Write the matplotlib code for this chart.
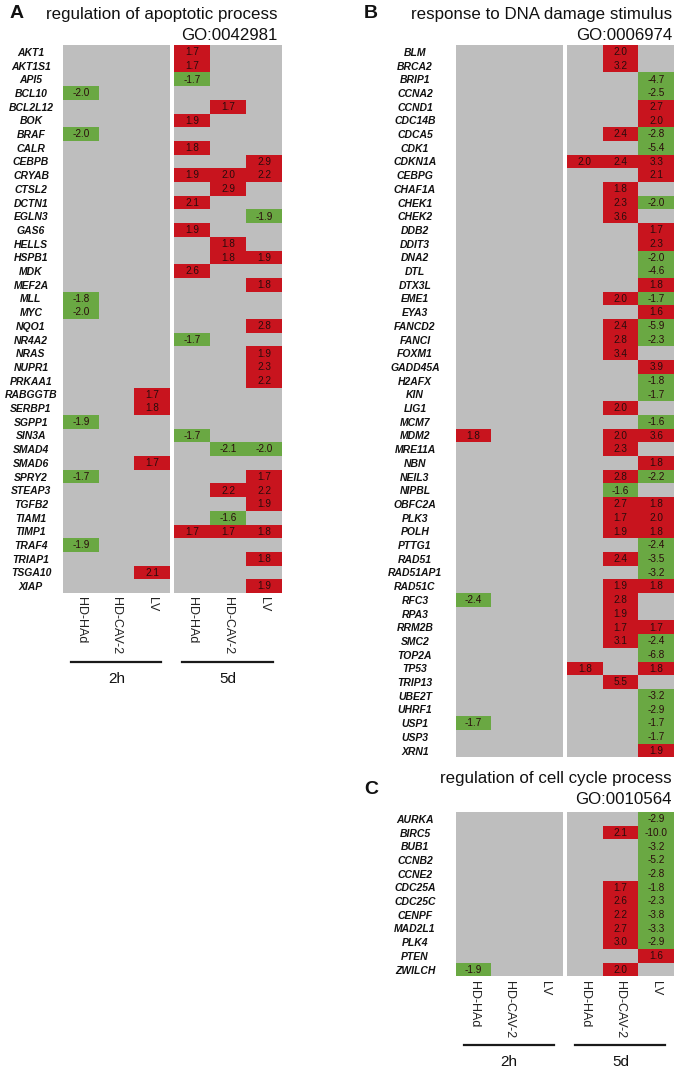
import matplotlib
matplotlib.use("Agg")
import matplotlib.pyplot as plt
from matplotlib.colors import ListedColormap
from matplotlib.lines import Line2D
import numpy as np

plt.rcParams["font.family"] = ["Liberation Sans", "DejaVu Sans"]

N = None

conditions = ["HD-HAd", "HD-CAV-2", "LV"]
timepoints = ["2h", "5d"]

# ---------------- Panel A ----------------
apop_title = "regulation of apoptotic process"
apop_go = "GO:0042981"
apop_genes = ["AKT1", "AKT1S1", "API5", "BCL10", "BCL2L12", "BOK", "BRAF", "CALR",
              "CEBPB", "CRYAB", "CTSL2", "DCTN1", "EGLN3", "GAS6", "HELLS", "HSPB1",
              "MDK", "MEF2A", "MLL", "MYC", "NQO1", "NR4A2", "NRAS", "NUPR1", "PRKAA1",
              "RABGGTB", "SERBP1", "SGPP1", "SIN3A", "SMAD4", "SMAD6", "SPRY2", "STEAP3",
              "TGFB2", "TIAM1", "TIMP1", "TRAF4", "TRIAP1", "TSGA10", "XIAP"]
apop_values = [
    [N, N, N, 1.7, N, N],       # AKT1
    [N, N, N, 1.7, N, N],       # AKT1S1
    [N, N, N, -1.7, N, N],      # API5
    [-2.0, N, N, N, N, N],      # BCL10
    [N, N, N, N, 1.7, N],       # BCL2L12
    [N, N, N, 1.9, N, N],       # BOK
    [-2.0, N, N, N, N, N],      # BRAF
    [N, N, N, 1.8, N, N],       # CALR
    [N, N, N, N, N, 2.9],       # CEBPB
    [N, N, N, 1.9, 2.0, 2.2],   # CRYAB
    [N, N, N, N, 2.9, N],       # CTSL2
    [N, N, N, 2.1, N, N],       # DCTN1
    [N, N, N, N, N, -1.9],      # EGLN3
    [N, N, N, 1.9, N, N],       # GAS6
    [N, N, N, N, 1.8, N],       # HELLS
    [N, N, N, N, 1.8, 1.9],     # HSPB1
    [N, N, N, 2.6, N, N],       # MDK
    [N, N, N, N, N, 1.8],       # MEF2A
    [-1.8, N, N, N, N, N],      # MLL
    [-2.0, N, N, N, N, N],      # MYC
    [N, N, N, N, N, 2.8],       # NQO1
    [N, N, N, -1.7, N, N],      # NR4A2
    [N, N, N, N, N, 1.9],       # NRAS
    [N, N, N, N, N, 2.3],       # NUPR1
    [N, N, N, N, N, 2.2],       # PRKAA1
    [N, N, 1.7, N, N, N],       # RABGGTB
    [N, N, 1.8, N, N, N],       # SERBP1
    [-1.9, N, N, N, N, N],      # SGPP1
    [N, N, N, -1.7, N, N],      # SIN3A
    [N, N, N, N, -2.1, -2.0],   # SMAD4
    [N, N, 1.7, N, N, N],       # SMAD6
    [-1.7, N, N, N, N, 1.7],    # SPRY2
    [N, N, N, N, 2.2, 2.2],     # STEAP3
    [N, N, N, N, N, 1.9],       # TGFB2
    [N, N, N, N, -1.6, N],      # TIAM1
    [N, N, N, 1.7, 1.7, 1.8],   # TIMP1
    [-1.9, N, N, N, N, N],      # TRAF4
    [N, N, N, N, N, 1.8],       # TRIAP1
    [N, N, 2.1, N, N, N],       # TSGA10
    [N, N, N, N, N, 1.9],       # XIAP
]

# ---------------- Panel B ----------------
dna_title = "response to DNA damage stimulus"
dna_go = "GO:0006974"
dna_genes = ["BLM", "BRCA2", "BRIP1", "CCNA2", "CCND1", "CDC14B", "CDCA5", "CDK1",
             "CDKN1A", "CEBPG", "CHAF1A", "CHEK1", "CHEK2", "DDB2", "DDIT3", "DNA2",
             "DTL", "DTX3L", "EME1", "EYA3", "FANCD2", "FANCI", "FOXM1", "GADD45A",
             "H2AFX", "KIN", "LIG1", "MCM7", "MDM2", "MRE11A", "NBN", "NEIL3", "NIPBL",
             "OBFC2A", "PLK3", "POLH", "PTTG1", "RAD51", "RAD51AP1", "RAD51C", "RFC3",
             "RPA3", "RRM2B", "SMC2", "TOP2A", "TP53", "TRIP13", "UBE2T", "UHRF1",
             "USP1", "USP3", "XRN1"]
dna_values = [
    [N, N, N, N, 2.0, N],       # BLM
    [N, N, N, N, 3.2, N],       # BRCA2
    [N, N, N, N, N, -4.7],      # BRIP1
    [N, N, N, N, N, -2.5],      # CCNA2
    [N, N, N, N, N, 2.7],       # CCND1
    [N, N, N, N, N, 2.0],       # CDC14B
    [N, N, N, N, 2.4, -2.8],    # CDCA5
    [N, N, N, N, N, -5.4],      # CDK1
    [N, N, N, 2.0, 2.4, 3.3],   # CDKN1A
    [N, N, N, N, N, 2.1],       # CEBPG
    [N, N, N, N, 1.8, N],       # CHAF1A
    [N, N, N, N, 2.3, -2.0],    # CHEK1
    [N, N, N, N, 3.6, N],       # CHEK2
    [N, N, N, N, N, 1.7],       # DDB2
    [N, N, N, N, N, 2.3],       # DDIT3
    [N, N, N, N, N, -2.0],      # DNA2
    [N, N, N, N, N, -4.6],      # DTL
    [N, N, N, N, N, 1.8],       # DTX3L
    [N, N, N, N, 2.0, -1.7],    # EME1
    [N, N, N, N, N, 1.6],       # EYA3
    [N, N, N, N, 2.4, -5.9],    # FANCD2
    [N, N, N, N, 2.8, -2.3],    # FANCI
    [N, N, N, N, 3.4, N],       # FOXM1
    [N, N, N, N, N, 3.9],       # GADD45A
    [N, N, N, N, N, -1.8],      # H2AFX
    [N, N, N, N, N, -1.7],      # KIN
    [N, N, N, N, 2.0, N],       # LIG1
    [N, N, N, N, N, -1.6],      # MCM7
    [1.8, N, N, N, 2.0, 3.6],   # MDM2
    [N, N, N, N, 2.3, N],       # MRE11A
    [N, N, N, N, N, 1.8],       # NBN
    [N, N, N, N, 2.8, -2.2],    # NEIL3
    [N, N, N, N, -1.6, N],      # NIPBL
    [N, N, N, N, 2.7, 1.8],     # OBFC2A
    [N, N, N, N, 1.7, 2.0],     # PLK3
    [N, N, N, N, 1.9, 1.8],     # POLH
    [N, N, N, N, N, -2.4],      # PTTG1
    [N, N, N, N, 2.4, -3.5],    # RAD51
    [N, N, N, N, N, -3.2],      # RAD51AP1
    [N, N, N, N, 1.9, 1.8],     # RAD51C
    [-2.4, N, N, N, 2.8, N],    # RFC3
    [N, N, N, N, 1.9, N],       # RPA3
    [N, N, N, N, 1.7, 1.7],     # RRM2B
    [N, N, N, N, 3.1, -2.4],    # SMC2
    [N, N, N, N, N, -6.8],      # TOP2A
    [N, N, N, 1.8, N, 1.8],     # TP53
    [N, N, N, N, 5.5, N],       # TRIP13
    [N, N, N, N, N, -3.2],      # UBE2T
    [N, N, N, N, N, -2.9],      # UHRF1
    [-1.7, N, N, N, N, -1.7],   # USP1
    [N, N, N, N, N, -1.7],      # USP3
    [N, N, N, N, N, 1.9],       # XRN1
]

# ---------------- Panel C ----------------
cc_title = "regulation of cell cycle process"
cc_go = "GO:0010564"
cc_genes = ["AURKA", "BIRC5", "BUB1", "CCNB2", "CCNE2", "CDC25A", "CDC25C", "CENPF",
            "MAD2L1", "PLK4", "PTEN", "ZWILCH"]
cc_values = [
    [N, N, N, N, N, -2.9],      # AURKA
    [N, N, N, N, 2.1, -10.0],   # BIRC5
    [N, N, N, N, N, -3.2],      # BUB1
    [N, N, N, N, N, -5.2],      # CCNB2
    [N, N, N, N, N, -2.8],      # CCNE2
    [N, N, N, N, 1.7, -1.8],    # CDC25A
    [N, N, N, N, 2.6, -2.3],    # CDC25C
    [N, N, N, N, 2.2, -3.8],    # CENPF
    [N, N, N, N, 2.7, -3.3],    # MAD2L1
    [N, N, N, N, 3.0, -2.9],    # PLK4
    [N, N, N, N, N, 1.6],       # PTEN
    [-1.9, N, N, N, 2.0, N],    # ZWILCH
]

# ---------------- Styling ----------------
GRAY = "#bebebe"
RED = "#c8141e"
GREEN = "#6aa843"
TXT = "#2a0c0c"
cmap = ListedColormap([GRAY, RED, GREEN])

W, H = 680, 1073
ROW = 13.7
fig = plt.figure(figsize=(W / 100, H / 100), dpi=100)


def add_ax(x0, y0, x1, y1):
    return fig.add_axes([x0 / W, 1 - y1 / H, (x1 - x0) / W, (y1 - y0) / H])


def hline(x0, x1, y):
    fig.add_artist(Line2D([x0 / W, x1 / W], [1 - y / H, 1 - y / H],
                          transform=fig.transFigure, color="#1a1a1a", lw=1.6))


def ftext(x, y, s, **kw):
    fig.text(x / W, 1 - y / H, s, **kw)


def draw_panel(letter, letter_xy, title, go, title_right, title_y, go_y,
               genes, values, blocks, ytop, label_cx, show_x=True):
    n = len(genes)
    arr = np.array([[np.nan if v is None else v for v in row] for row in values], float)
    ybot = ytop + n * ROW
    for b, (x0, x1) in enumerate(blocks):
        ax = add_ax(x0, ytop, x1, ybot)
        sub = arr[:, 3 * b:3 * b + 3]
        cat = np.where(np.isnan(sub), 0, np.where(sub > 0, 1, 2))
        ax.pcolormesh(np.arange(4), np.arange(n + 1), cat, cmap=cmap, vmin=0, vmax=2)
        ax.set_xlim(0, 3)
        ax.set_ylim(n, 0)
        for i in range(n):
            for j in range(3):
                v = sub[i, j]
                if not np.isnan(v):
                    ax.text(j + 0.5, i + 0.52, f"{v:.1f}", ha="center", va="center",
                            fontsize=7.2, color=TXT)
        for s in ax.spines.values():
            s.set_visible(False)
        if show_x:
            ax.set_xticks(np.arange(3) + 0.5)
            ax.set_xticklabels(conditions, rotation=-90, va="top", ha="center",
                               fontsize=9, color="#222222")
            ax.tick_params(axis="x", length=0, pad=3)
            by = ybot + 69
            hline(x0 + 8, x1 - 9, by)
            ftext((x0 + x1) / 2, by + 17, timepoints[b], ha="center", va="center",
                  fontsize=11, color="#111111")
        else:
            ax.set_xticks([])
        if b == 0:
            ax.set_yticks(np.arange(n) + 0.5)
            ax.set_yticklabels(genes, ha="center", fontsize=7.5, fontweight="bold",
                               fontstyle="italic", color="#111111")
            ax.tick_params(axis="y", length=0, pad=(x0 - label_cx) * 0.72)
        else:
            ax.set_yticks([])
    ftext(letter_xy[0], letter_xy[1], letter, ha="center", va="center",
          fontsize=14, fontweight="bold", color="#111111")
    ftext(title_right, title_y, title, ha="right", va="center", fontsize=12.2,
          color="#111111")
    ftext(title_right, go_y, go, ha="right", va="center", fontsize=12.2,
          color="#111111")


draw_panel("A", (17, 13), apop_title, apop_go, 277, 15, 35,
           apop_genes, apop_values, [(63, 170), (174, 282)], 45, 31)
draw_panel("B", (371, 13), dna_title, dna_go, 672, 15, 35,
           dna_genes, dna_values, [(455.7, 562.7), (567, 674)], 45, 415, show_x=False)
draw_panel("C", (371, 789), cc_title, cc_go, 672, 778, 799,
           cc_genes, cc_values, [(455.7, 562.7), (567, 674)], 812, 415)

fig.savefig("out.png", dpi=100)
